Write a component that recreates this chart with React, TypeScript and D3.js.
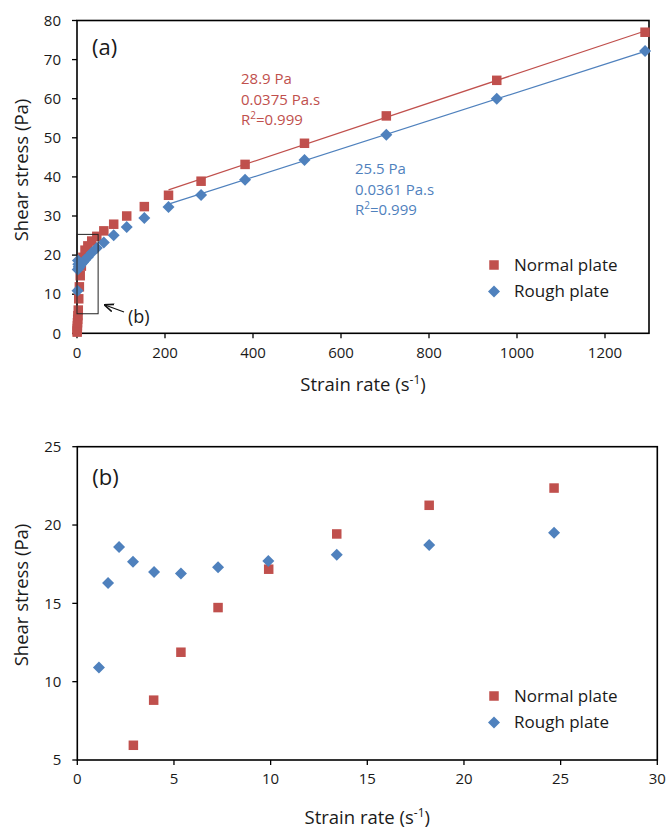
import React from "react";
import * as d3 from "d3";

const normalX = [0.37, 0.5, 0.68, 0.92, 1.12, 1.6, 2.15, 2.9, 3.95, 5.36, 7.28, 9.9, 13.42, 18.2, 24.66, 33.5, 45, 61, 83.4, 113, 153, 208, 282, 382, 517, 703, 954, 1291];
const normalY = [0.3, 0.7, 1.2, 1.9, 2.7, 3.6, 4.5, 5.94, 8.82, 11.88, 14.73, 17.18, 19.43, 21.26, 22.36, 23.6, 24.8, 26.2, 27.9, 30.0, 32.4, 35.3, 38.9, 43.2, 48.6, 55.6, 64.7, 77.0];
const roughX = [1.12, 1.59, 2.16, 2.88, 3.97, 5.36, 7.28, 9.88, 13.42, 18.2, 24.66, 33.5, 45, 61, 83.4, 113, 153, 208, 282, 382, 517, 703, 954, 1291];
const roughY = [10.9, 16.3, 18.6, 17.65, 17.0, 16.9, 17.3, 17.7, 18.1, 18.73, 19.5, 20.6, 21.8, 23.2, 25.1, 27.2, 29.5, 32.3, 35.4, 39.3, 44.3, 50.8, 60.0, 72.2];

const fitNormal = { intercept: 28.9, slope: 0.0375, from: 208, to: 1291 };
const fitRough = { intercept: 25.5, slope: 0.0361, from: 208, to: 1291 };

const ticksAX = [0, 200, 400, 600, 800, 1000, 1200];
const ticksAY = [0, 10, 20, 30, 40, 50, 60, 70, 80];
const ticksBX = [0, 5, 10, 15, 20, 25, 30];
const ticksBY = [5, 10, 15, 20, 25];

const annNormal = ["28.9 Pa", "0.0375 Pa.s", "R2=0.999"];
const annRough = ["25.5 Pa", "0.0361 Pa.s", "R2=0.999"];
const zoomBox = { x0: 0, x1: 48, y0: 5, y1: 25.3 };

const RED = "#C0504D";
const BLUE = "#4F81BD";
const FONT = "'Open Sans', 'Noto Sans', sans-serif";
const TXT = "#1a1a1a";

function Square({ x, y, s = 9.5 }: { x: number; y: number; s?: number }) {
  return <rect x={x - s / 2} y={y - s / 2} width={s} height={s} fill={RED} />;
}
function Diamond({ x, y, r = 6 }: { x: number; y: number; r?: number }) {
  return <path d={`M${x},${y - r}L${x + r},${y}L${x},${y + r}L${x - r},${y}Z`} fill={BLUE} />;
}

function RText({ x, y, text, color }: { x: number; y: number; text: string; color: string }) {
  const rest = text.slice(2);
  return (
    <text x={x} y={y} fill={color} fontSize={15} fontFamily={FONT}>
      R<tspan fontSize={10} dy={-6}>2</tspan>
      <tspan dy={6}>{rest}</tspan>
    </text>
  );
}

function Panel({
  xScale, yScale, xTicks, yTicks, labelY, xLabelY, tickLabelY, tag, tagY, filter, children, legendY,
}: any) {
  const [x0, x1] = xScale.range();
  const [yb, yt] = yScale.range();
  const pts = (xs: number[], ys: number[]) =>
    xs.map((x, i) => ({ x, y: ys[i] })).filter((p) => filter(p));
  return (
    <g>
      <rect x={x0} y={yt} width={x1 - x0} height={yb - yt} fill="none" stroke="#000" strokeWidth={1.6} />
      {yTicks.map((t: number) => (
        <g key={"y" + t}>
          <line x1={x0 - 5} x2={x0} y1={yScale(t)} y2={yScale(t)} stroke="#000" strokeWidth={1.3} />
          <text x={x0 - 16} y={yScale(t)} dy="0.35em" textAnchor="end" fontSize={15} fontFamily={FONT} fill={TXT}>{t}</text>
        </g>
      ))}
      {xTicks.map((t: number) => (
        <g key={"x" + t}>
          <line x1={xScale(t)} x2={xScale(t)} y1={yb} y2={yb + 5} stroke="#000" strokeWidth={1.3} />
          <text x={xScale(t)} y={tickLabelY} textAnchor="middle" fontSize={15} fontFamily={FONT} fill={TXT}>{t}</text>
        </g>
      ))}
      <text x={(x0 + x1) / 2} y={xLabelY} textAnchor="middle" fontSize={18.5} fontFamily={FONT} fill={TXT}>
        Strain rate (s<tspan fontSize={12} dy={-7}>-1</tspan><tspan dy={7}>)</tspan>
      </text>
      <text transform={`translate(22,${labelY}) rotate(-90)`} textAnchor="middle" dy="0.35em" fontSize={18.5} fontFamily={FONT} fill={TXT}>
        Shear stress (Pa)
      </text>
      <text x={x0 + 15} y={tagY} fontSize={22} fontFamily={FONT} fill={TXT}>{tag}</text>
      {pts(normalX, normalY).map((p, i) => (
        <Square key={"n" + i} x={xScale(p.x)} y={yScale(p.y)} />
      ))}
      {pts(roughX, roughY).map((p, i) => (
        <Diamond key={"r" + i} x={xScale(p.x)} y={yScale(p.y)} />
      ))}
      {children}
      <Square x={494} y={legendY} />
      <text x={514} y={legendY} dy="0.35em" fontSize={17} fontFamily={FONT} fill={TXT}>Normal plate</text>
      <Diamond x={494} y={legendY + 26.5} />
      <text x={514} y={legendY + 26.5} dy="0.35em" fontSize={17} fontFamily={FONT} fill={TXT}>Rough plate</text>
    </g>
  );
}

export default function App() {
  const xA = d3.scaleLinear().domain([0, 1300]).range([77, 649]);
  const yA = d3.scaleLinear().domain([0, 80]).range([333.3, 20.5]);
  const xB = d3.scaleLinear().domain([0, 30]).range([77.3, 657.3]);
  const yB = d3.scaleLinear().domain([5, 25]).range([760, 446.7]);

  const fitLine = (f: any) =>
    d3.line<number>().x((v) => xA(v)).y((v) => yA(f.intercept + f.slope * v))([f.from, f.to]) as string;

  return (
    <svg width={669} height={829} style={{ position: "absolute", left: 0, top: 0, background: "#fff" }}>
      <rect width={669} height={829} fill="#fff" />
      <Panel
        xScale={xA} yScale={yA} xTicks={ticksAX} yTicks={ticksAY}
        labelY={170} xLabelY={391} tickLabelY={358} tag="(a)" tagY={55}
        filter={() => true} legendY={265}
      >
        <path d={fitLine(fitNormal)} stroke={RED} strokeWidth={1.3} fill="none" />
        <path d={fitLine(fitRough)} stroke={BLUE} strokeWidth={1.3} fill="none" />
        <rect
          x={xA(zoomBox.x0)} y={yA(zoomBox.y1)}
          width={xA(zoomBox.x1) - xA(zoomBox.x0)} height={yA(zoomBox.y0) - yA(zoomBox.y1)}
          fill="none" stroke="#222" strokeWidth={1}
        />
        <defs>
          <marker id="arr" viewBox="0 0 10 10" refX="9" refY="5" markerWidth="8" markerHeight="8" orient="auto">
            <path d="M0,1L10,5L0,9" fill="none" stroke="#111" strokeWidth={1.6} />
          </marker>
        </defs>
        <line x1={124} y1={312} x2={105} y2={305} stroke="#111" strokeWidth={1.2} markerEnd="url(#arr)" />
        <text x={128} y={323} fontSize={18} fontFamily={FONT} fill={TXT}>(b)</text>
        {annNormal.map((t, i) =>
          t.startsWith("R2") ? (
            <RText key={"an" + i} x={241} y={84 + i * 20.5} text={t} color={RED} />
          ) : (
            <text key={"an" + i} x={241} y={84 + i * 20.5} fill={RED} fontSize={15} fontFamily={FONT}>{t}</text>
          )
        )}
        {annRough.map((t, i) =>
          t.startsWith("R2") ? (
            <RText key={"ar" + i} x={355} y={174 + i * 20.5} text={t} color={BLUE} />
          ) : (
            <text key={"ar" + i} x={355} y={174 + i * 20.5} fill={BLUE} fontSize={15} fontFamily={FONT}>{t}</text>
          )
        )}
      </Panel>
      <Panel
        xScale={xB} yScale={yB} xTicks={ticksBX} yTicks={ticksBY}
        labelY={595} xLabelY={824} tickLabelY={784} tag="(b)" tagY={485}
        filter={(p: any) => p.x <= 30 && p.y >= 5 && p.y <= 25} legendY={696}
      />
    </svg>
  );
}
